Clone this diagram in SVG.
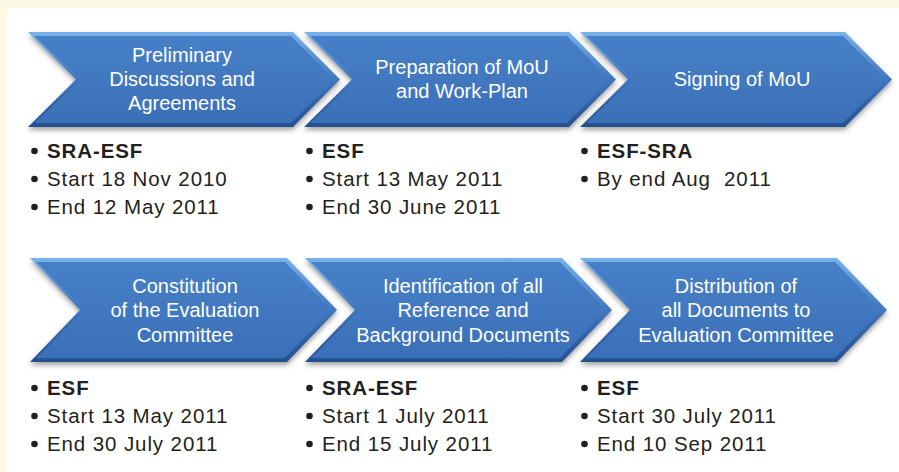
<svg xmlns="http://www.w3.org/2000/svg" xmlns:xlink="http://www.w3.org/1999/xlink" width="899" height="472" viewBox="0 0 899 472">
<style>
.lbl{fill:#ffffff;font-family:"Liberation Sans",Arial,sans-serif;font-size:20px;text-anchor:middle}
.bt{fill:#231f20;font-family:"Liberation Sans",Arial,sans-serif;font-size:20.5px;letter-spacing:0.9px;white-space:pre}
.bb{font-weight:bold}
.dot{fill:#231f20}
</style>
<defs>
<linearGradient id="bevel" x1="0" y1="0" x2="0" y2="1">
<stop offset="0" stop-color="#78b2ea"/>
<stop offset="0.5" stop-color="#3f76bd"/>
<stop offset="1" stop-color="#24508f"/>
</linearGradient>
<linearGradient id="face" x1="0" y1="0" x2="0" y2="1">
<stop offset="0" stop-color="#4780c8"/>
<stop offset="1" stop-color="#3b70b8"/>
</linearGradient>
<filter id="sh" x="-10%" y="-10%" width="120%" height="130%">
<feDropShadow dx="0" dy="3" stdDeviation="2.5" flood-color="#404040" flood-opacity="0.5"/>
</filter>
<g id="chevT">
<polygon points="0,0 265,0 312,47.5 265,95 0,95 48,47.5" fill="url(#bevel)" filter="url(#sh)"/>
<polygon points="6,4 263,4 306,47.5 263,91 6,91 53,47.5" fill="url(#face)"/>
</g>
<g id="chevB">
<polygon points="0,0 257,0 307,52 257,104 0,104 50,52" fill="url(#bevel)" filter="url(#sh)"/>
<polygon points="6,4 255,4 301,52 255,100 6,100 55,52" fill="url(#face)"/>
</g>
</defs>
<rect x="0" y="0" width="899" height="472" fill="#fdf8e4"/>
<rect x="7" y="8" width="900" height="470" rx="6" fill="#ffffff"/>

<g id="node-preliminary">
<use xlink:href="#chevT" href="#chevT" x="28" y="32"/>
<text class="lbl" x="182" y="62">Preliminary</text>
<text class="lbl" x="182" y="86">Discussions and</text>
<text class="lbl" x="182" y="110">Agreements</text>
<circle class="dot" cx="34.5" cy="151" r="3.3"/>
<circle class="dot" cx="34.5" cy="179" r="3.3"/>
<circle class="dot" cx="34.5" cy="207" r="3.3"/>
<text class="bt bb" x="47" y="158">SRA-ESF</text>
<text class="bt" x="47" y="186">Start 18 Nov 2010</text>
<text class="bt" x="47" y="214">End 12 May 2011</text>
</g>

<g id="node-preparation">
<use xlink:href="#chevT" href="#chevT" x="304" y="32"/>
<text class="lbl" x="462" y="74">Preparation of MoU</text>
<text class="lbl" x="462" y="98">and Work-Plan</text>
<circle class="dot" cx="309.5" cy="151" r="3.3"/>
<circle class="dot" cx="309.5" cy="179" r="3.3"/>
<circle class="dot" cx="309.5" cy="207" r="3.3"/>
<text class="bt bb" x="322" y="158">ESF</text>
<text class="bt" x="322" y="186">Start 13 May 2011</text>
<text class="bt" x="322" y="214">End 30 June 2011</text>
</g>

<g id="node-signing">
<use xlink:href="#chevT" href="#chevT" x="580" y="32"/>
<text class="lbl" x="742" y="86">Signing of MoU</text>
<circle class="dot" cx="584.5" cy="151" r="3.3"/>
<circle class="dot" cx="584.5" cy="179" r="3.3"/>
<text class="bt bb" x="597" y="158">ESF-SRA</text>
<text class="bt" x="597" y="186">By end Aug  2011</text>
</g>

<g id="node-constitution">
<use xlink:href="#chevB" href="#chevB" x="30" y="258"/>
<text class="lbl" x="185" y="293">Constitution</text>
<text class="lbl" x="185" y="317">of the Evaluation</text>
<text class="lbl" x="185" y="342">Committee</text>
<circle class="dot" cx="34.5" cy="388" r="3.3"/>
<circle class="dot" cx="34.5" cy="416" r="3.3"/>
<circle class="dot" cx="34.5" cy="444" r="3.3"/>
<text class="bt bb" x="47" y="395">ESF</text>
<text class="bt" x="47" y="423">Start 13 May 2011</text>
<text class="bt" x="47" y="451">End 30 July 2011</text>
</g>

<g id="node-identification">
<use xlink:href="#chevB" href="#chevB" x="305" y="258"/>
<text class="lbl" x="463" y="293">Identification of all</text>
<text class="lbl" x="463" y="317">Reference and</text>
<text class="lbl" x="463" y="342">Background Documents</text>
<circle class="dot" cx="309.5" cy="388" r="3.3"/>
<circle class="dot" cx="309.5" cy="416" r="3.3"/>
<circle class="dot" cx="309.5" cy="444" r="3.3"/>
<text class="bt bb" x="322" y="395">SRA-ESF</text>
<text class="bt" x="322" y="423">Start 1 July 2011</text>
<text class="bt" x="322" y="451">End 15 July 2011</text>
</g>

<g id="node-distribution">
<use xlink:href="#chevB" href="#chevB" x="580" y="258"/>
<text class="lbl" x="736" y="293">Distribution of</text>
<text class="lbl" x="736" y="317">all Documents to</text>
<text class="lbl" x="736" y="342">Evaluation Committee</text>
<circle class="dot" cx="584.5" cy="388" r="3.3"/>
<circle class="dot" cx="584.5" cy="416" r="3.3"/>
<circle class="dot" cx="584.5" cy="444" r="3.3"/>
<text class="bt bb" x="597" y="395">ESF</text>
<text class="bt" x="597" y="423">Start 30 July 2011</text>
<text class="bt" x="597" y="451">End 10 Sep 2011</text>
</g>

<g id="connectors"/>
</svg>
